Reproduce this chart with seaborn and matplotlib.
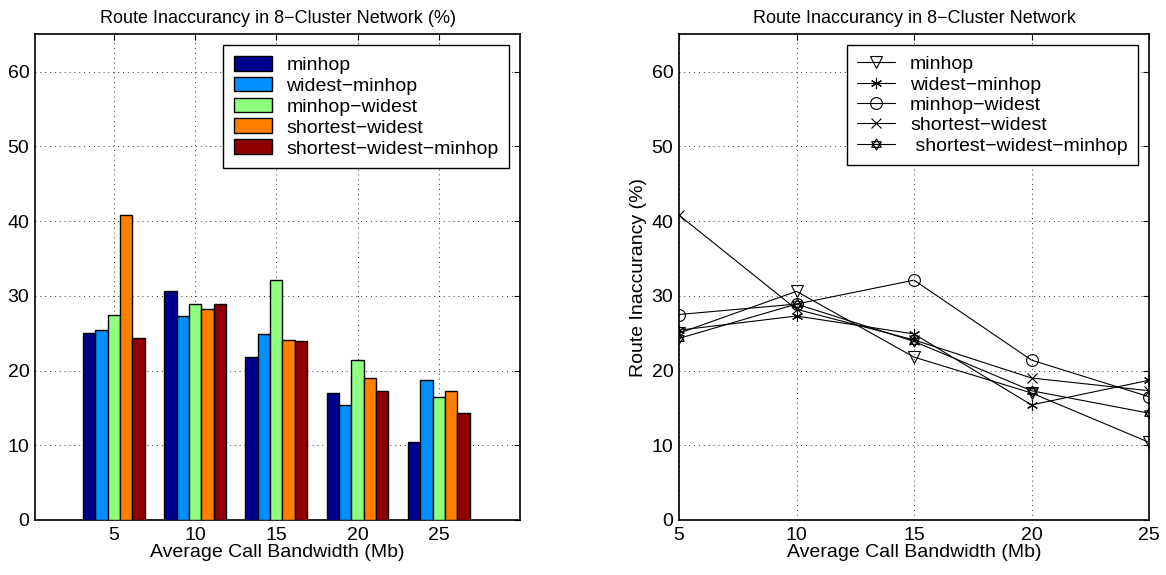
import numpy as np
import pandas as pd
import matplotlib
matplotlib.use("Agg")
import matplotlib.pyplot as plt
from matplotlib.path import Path
import seaborn as sns

# ======================================================
# DATA
# ======================================================
bandwidth = [5, 10, 15, 20, 25]
algorithms = ["minhop", "widest\u2212minhop", "minhop\u2212widest",
              "shortest\u2212widest", "shortest\u2212widest\u2212minhop"]

minhop = [25.0, 30.6, 21.8, 17.0, 10.4]
widest_minhop = [25.4, 27.3, 24.9, 15.4, 18.7]
minhop_widest = [27.5, 28.9, 32.1, 21.4, 16.5]
shortest_widest = [40.8, 28.2, 24.1, 19.0, 17.3]
shortest_widest_minhop = [24.3, 28.9, 23.9, 17.3, 14.3]

series = [minhop, widest_minhop, minhop_widest, shortest_widest, shortest_widest_minhop]

bar_colors = ["#00008F", "#008FFF", "#8FFF80", "#FF8000", "#8F0000"]

# legend label in the original has a leading space for the last entry
line_labels = ["minhop", "widest\u2212minhop", "minhop\u2212widest",
               "shortest\u2212widest", " shortest\u2212widest\u2212minhop"]

# long-format table for seaborn
rows = []
for name, vals in zip(algorithms, series):
    for bw, v in zip(bandwidth, vals):
        rows.append({"bandwidth": bw, "algorithm": name, "inaccuracy": v})
df = pd.DataFrame(rows)

# hexagram marker (two overlapping triangles)
ang1 = np.deg2rad([90, 210, 330, 90])
ang2 = np.deg2rad([270, 30, 150, 270])
verts = list(zip(np.cos(ang1), np.sin(ang1))) + list(zip(np.cos(ang2), np.sin(ang2)))
codes = [Path.MOVETO, Path.LINETO, Path.LINETO, Path.CLOSEPOLY] * 2
hexagram = Path(verts, codes)

markers = ["v", (6, 2, 0), "o", "x", hexagram]
marker_sizes = [9, 8, 8.5, 6.5, 8]

# ======================================================
# STYLE
# ======================================================
sns.set_theme(style="white")
plt.rcParams["font.family"] = ["Liberation Sans", "DejaVu Sans"]
plt.rcParams["xtick.direction"] = "in"
plt.rcParams["ytick.direction"] = "in"
plt.rcParams["text.color"] = "black"
plt.rcParams["axes.labelcolor"] = "black"
plt.rcParams["xtick.color"] = "black"
plt.rcParams["ytick.color"] = "black"

fig = plt.figure(figsize=(11.66, 5.75), dpi=100)
ax1 = fig.add_axes([35 / 1166, 55 / 575, 485 / 1166, 485.7 / 575])
ax2 = fig.add_axes([679 / 1166, 55 / 575, 470 / 1166, 485.7 / 575])

legend_kw = dict(loc="upper right", fontsize=14, frameon=True, fancybox=False,
                 edgecolor="black", framealpha=1, handlelength=1.95,
                 labelspacing=0.14, borderpad=0.55, handletextpad=0.75,
                 borderaxespad=0.55)

# ------------------------------------------------------
# Left: grouped bars
# ------------------------------------------------------
sns.barplot(data=df, x="bandwidth", y="inaccuracy", hue="algorithm",
            palette=bar_colors, width=0.76, edgecolor="black", linewidth=1,
            saturation=1, ax=ax1, zorder=3)
ax1.set_xlim(-0.97, 5.0)
ax1.set_ylim(0, 65)
ax1.set_yticks(range(0, 61, 10))
ax1.set_title("Route Inaccurancy in 8\u2212Cluster Network (%)", fontsize=13, pad=8)
ax1.set_xlabel("Average Call Bandwidth (Mb)", fontsize=14, labelpad=0)
ax1.set_ylabel("")
ax1.legend(handleheight=0.8, **legend_kw)

# ------------------------------------------------------
# Right: lines with markers (one call per series, seaborn
# won't mix filled and line-art markers in one style map)
# ------------------------------------------------------
for name, lab, mk, ms in zip(algorithms, line_labels, markers, marker_sizes):
    sns.lineplot(data=df[df["algorithm"] == name], x="bandwidth", y="inaccuracy",
                 marker=mk, color="black", linewidth=0.8, markersize=ms,
                 markerfacecolor="none", markeredgecolor="black",
                 markeredgewidth=0.8, label=lab, ax=ax2, zorder=3)
ax2.set_xlim(5, 25)
ax2.set_ylim(0, 65)
ax2.set_xticks(bandwidth)
ax2.set_yticks(range(0, 61, 10))
ax2.set_title("Route Inaccurancy in 8\u2212Cluster Network", fontsize=13, pad=8)
ax2.set_xlabel("Average Call Bandwidth (Mb)", fontsize=14, labelpad=0)
ax2.set_ylabel("Route Inaccurancy (%)", fontsize=14, labelpad=3)
ax2.legend(**legend_kw)

for ax in (ax1, ax2):
    ax.grid(True, linestyle=(0, (1, 4)), color="black", linewidth=0.7, alpha=0.8)
    ax.set_axisbelow(True)
    ax.tick_params(axis="both", labelsize=14, top=True, right=True,
                   length=4, width=0.8, color="black")
    ax.tick_params(axis="x", pad=5)
    ax.tick_params(axis="y", pad=4)
    for s in ax.spines.values():
        s.set_color("black")
        s.set_linewidth(1.2)
    ax.get_legend().set_zorder(5)

plt.savefig("out.png", dpi=100)
plt.close()
